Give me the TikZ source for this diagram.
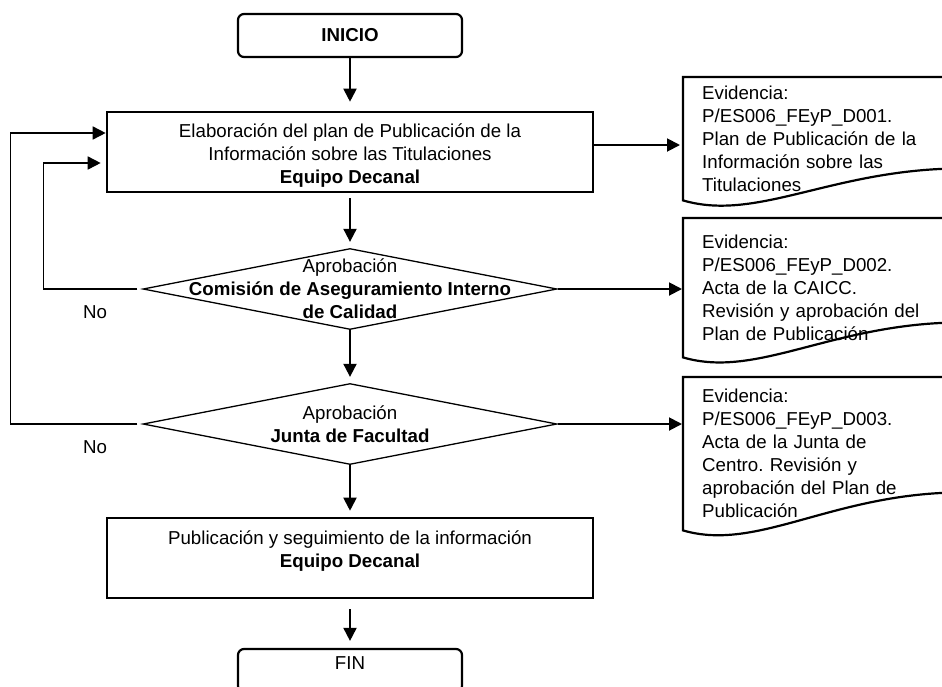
\documentclass[tikz,border=0pt]{standalone}
\usepackage{fontspec}
\setmainfont{Liberation Sans}
\usetikzlibrary{shapes,arrows.meta,positioning}
\tikzset{>={Triangle[length=13pt,width=13pt]}}
\frenchspacing

\begin{document}
\begin{tikzpicture}[x=1pt,y=-1pt,
                    every node/.style={font=\fontsize{18.7}{23}\selectfont},
                    term/.style={draw, line width=2.2pt, rounded corners=6pt, minimum width=224pt, minimum height=43pt},
                    box/.style={draw, line width=2.6pt, minimum width=486pt, minimum height=80pt},
                    decision/.style={draw, diamond, line width=1.3pt, minimum width=414pt, minimum height=81pt, inner sep=0pt},
                    evid/.style={anchor=north west, text width=242pt, inner xsep=19pt, inner ysep=0pt, minimum width=280pt, align=left},
                    docline/.style={line width=2.2pt},
                    flow/.style={line width=1.9pt, ->},
                    back/.style={line width=1.6pt, ->},
                   ]

\useasboundingbox (0,0) rectangle (942,686);
\clip (0,0) rectangle (942,686);

% main column
\node[term] (inicio) at (350,35.5) {\textbf{INICIO}};
\node[box, label={[align=center,yshift=-4pt]center:{Elaboración del plan de Publicación de la\\Información sobre las Titulaciones\\\textbf{Equipo Decanal}}}] (elab) at (350,152) {};
\node[decision, label={[align=center]center:{Aprobación\\\textbf{Comisión de Aseguramiento Interno}\\\textbf{de Calidad}}}] (dec1) at (350,289) {};
\node[decision, label={[align=center]center:{Aprobación\\\textbf{Junta de Facultad}}}] (dec2) at (350,424) {};
\node[box, label={[align=center,yshift=7pt]center:{Publicación y seguimiento de la información\\\textbf{Equipo Decanal}}}] (pub) at (350,558) {};
\node[term, label={[yshift=7.5pt]center:{FIN}}] (fin) at (350,670.5) {};

% evidences
\node[evid, minimum height=123pt] (ev1) at (683,77) {Evidencia:\\P/ES006\_FEyP\_D001.\\Plan de Publicación de la\\Información sobre las\\Titulaciones};
\node[evid, minimum height=139pt] (ev2) at (683,218) {Evidencia:\\P/ES006\_FEyP\_D002.\\Acta de la CAICC.\\Revisión y aprobación del\\Plan de Publicación};
\node[evid, minimum height=153pt] (ev3) at (683,377) {Evidencia:\\P/ES006\_FEyP\_D003.\\Acta de la Junta de\\Centro. Revisión y\\aprobación del Plan de\\Publicación};

\draw[docline] (ev1.north east) -- (ev1.north west) -- (ev1.south west) .. controls +(75,22) and +(-130,0) .. ([shift={(280,-32)}]ev1.south west);
\draw[docline] (ev2.north east) -- (ev2.north west) -- (ev2.south west) .. controls +(75,22) and +(-130,0) .. ([shift={(280,-35)}]ev2.south west);
\draw[docline] (ev3.north east) -- (ev3.north west) -- (ev3.south west) .. controls +(75,22) and +(-130,0) .. ([shift={(280,-38)}]ev3.south west);

% flow
\draw[flow, shorten >=9pt] (inicio) -- (elab);
\draw[flow, shorten <=5pt, shorten >=6pt] (elab) -- (dec1);
\draw[flow, shorten >=6pt] (dec1) -- (dec2);
\draw[flow, shorten >=6pt] (dec2) -- (pub);
\draw[flow, shorten <=10pt, shorten >=7pt] (pub) -- (fin);

\path ([yshift=7pt]elab.east) coordinate (e1);
\draw[flow, shorten >=3pt] (e1) -- (e1 -| ev1.west);
\draw[flow, shorten >=1pt] (dec1.east) -- (dec1.east -| ev2.west);
\draw[flow, shorten >=1pt] (dec2.east) -- (dec2.east -| ev3.west);

% No branches
\draw[back, shorten <=5pt, shorten >=5pt] (dec1.west) -- ++(-99,0) |- ([yshift=-11pt]elab.west);
\draw[back, shorten <=5pt] (dec2.west) -- ++(-132,0) |- ([yshift=19pt]elab.west);
\node (no1) at (95,312) {No};
\node (no2) at (95,447) {No};

\end{tikzpicture}
\end{document}
